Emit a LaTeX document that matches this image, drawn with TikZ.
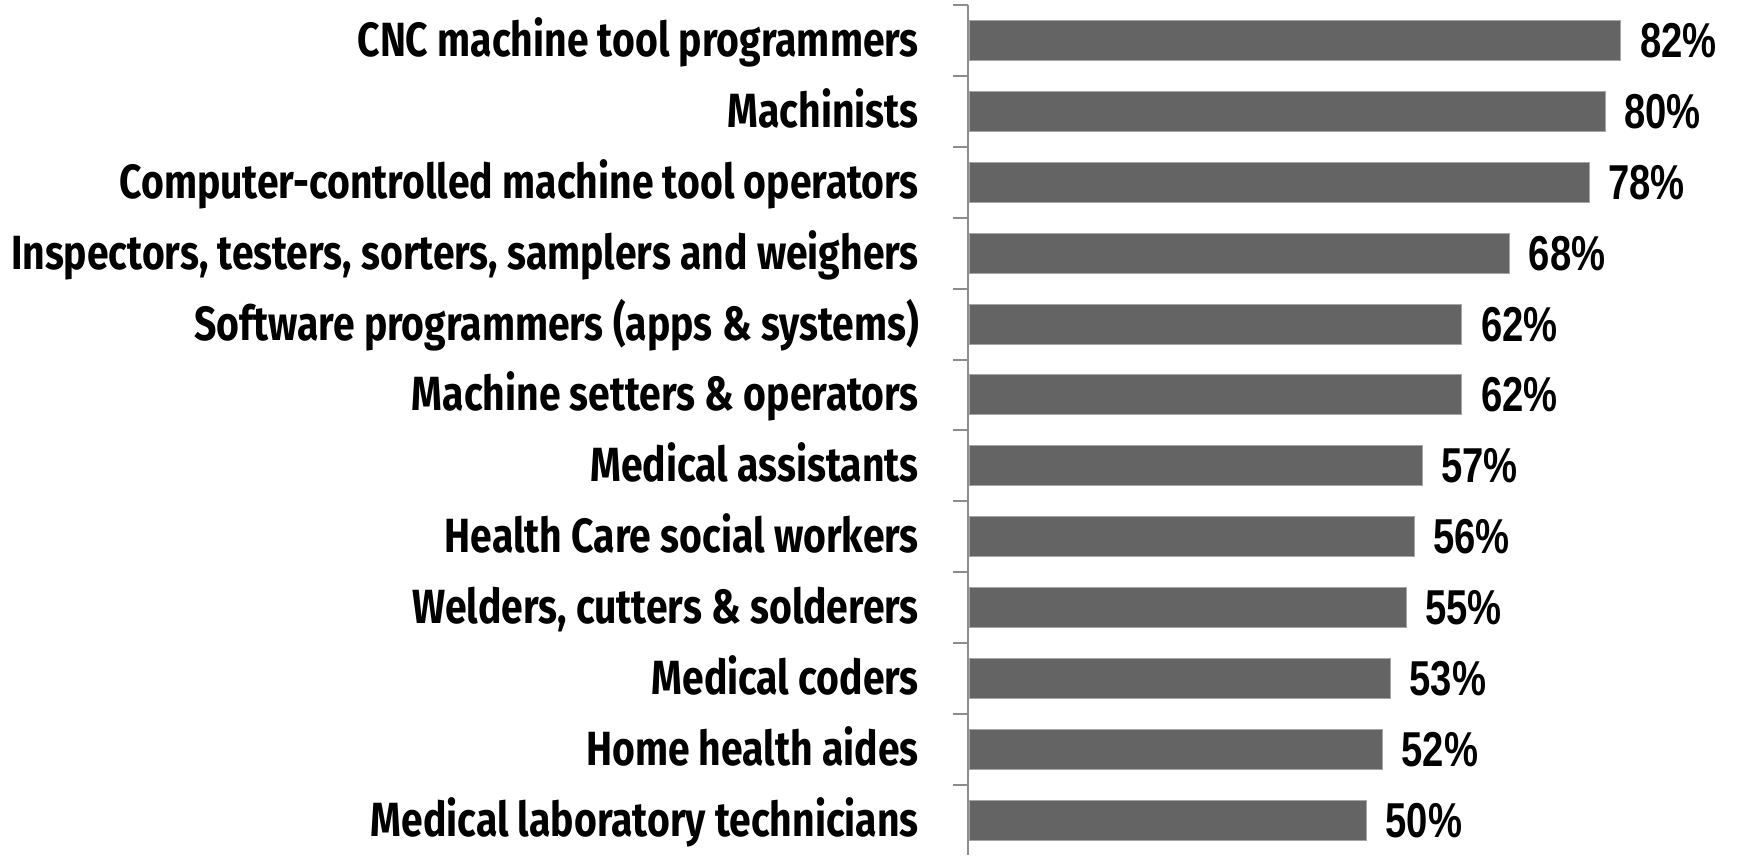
\documentclass[tikz,border=0pt]{standalone}
\usepackage{fontspec}
\newfontfamily\labfont[FakeStretch=0.815]{Fira Sans}
\newfontfamily\pctfont[FakeStretch=0.78]{Liberation Sans}
\definecolor{barfill}{HTML}{646464}
\definecolor{barline}{HTML}{A6A6A6}
\definecolor{axiscol}{HTML}{8C8C8C}
\tikzset{
  catlabel/.style={anchor=base east, inner sep=0pt, font=\labfont\bfseries\fontsize{48}{48}\selectfont},
  pctlabel/.style={anchor=base west, inner sep=0pt, font=\pctfont\bfseries\fontsize{49}{49}\selectfont},
  barbox/.style={fill=barfill, draw=barline, line width=1pt},
  axisline/.style={draw=axiscol, line width=2pt},
}
\begin{document}
\begin{tikzpicture}[x=1pt,y=-1pt]
\useasboundingbox (0,0) rectangle (1737,855);
\def\sp{70.9}
\foreach \v/\t [count=\i from 0] in {82/CNC machine tool programmers,80/Machinists,78/Computer-controlled machine tool operators,68/{Inspectors, testers, sorters, samplers and weighers},62/Software programmers (apps \& systems),62/Machine setters \& operators,57/Medical assistants,56/Health Care social workers,55/{Welders, cutters \& solderers},53/Medical coders,52/Home health aides,50/Medical laboratory technicians}{
  \pgfmathsetmacro{\yc}{5+\sp*(\i+0.5)}
  \pgfmathsetmacro{\xe}{969+7.95*\v}
  \path[barbox] (969,\yc-20) rectangle (\xe,\yc+20);
  \node[catlabel] (lab\i) at (919,\yc+16) {\t};
  \node[pctlabel] (pct\i) at (\xe+19,\yc+17) {\v\%};
}
\draw[axisline] (968,5) -- (968,855);
\foreach \k in {0,...,11}{
  \pgfmathsetmacro{\yt}{5+\sp*\k}
  \draw[axisline] (953,\yt) -- (968,\yt);
}
\end{tikzpicture}
\end{document}
